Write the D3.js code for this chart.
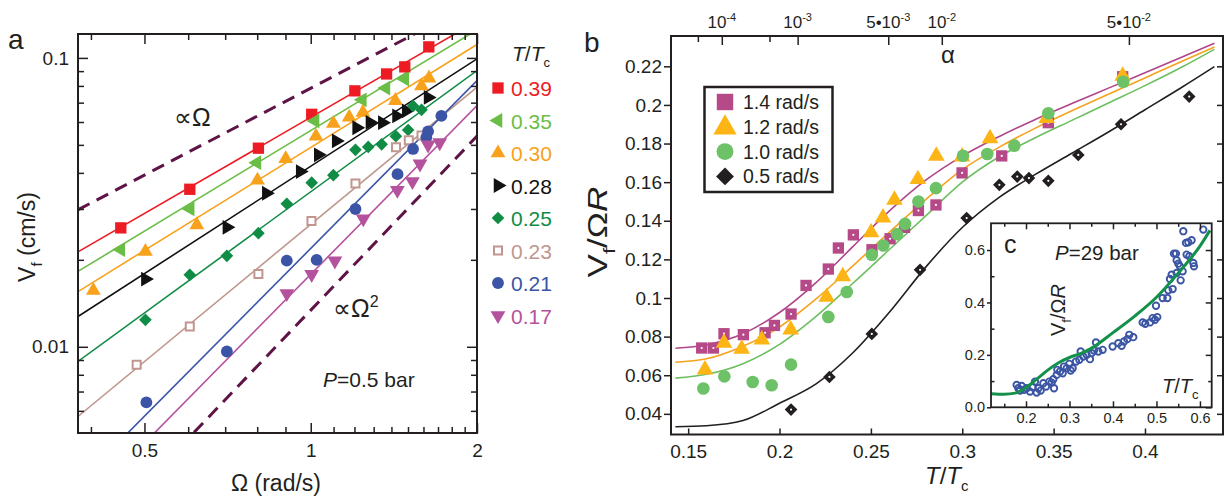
<!DOCTYPE html>
<html>
<head>
<meta charset="utf-8">
<script src="https://cdn.jsdelivr.net/npm/d3@7"></script>
<style>
  html, body { margin: 0; padding: 0; background: #fff; }
  svg text { font-family: "Liberation Sans", Arial, Helvetica, sans-serif; fill: #231f20; }
</style>
</head>
<body>
<svg id="fig" width="1226" height="497"></svg>
<script>
// ---------------- panel a data: V_f (cm/s) vs Omega (rad/s) ----------------
const omegaDomain = [0.379, 2];
const vfDomain = [0.00503, 0.121];
const omegaTicks = [0.4, 0.5, 0.6, 0.7, 0.8, 0.9, 1, 1.1, 1.2, 1.3, 1.4, 1.5, 1.6, 1.7, 1.8, 1.9, 2];
const omegaLabels = [0.5, 1, 2];
const vfTicks = [0.006, 0.007, 0.008, 0.009, 0.01, 0.02, 0.03, 0.04, 0.05, 0.06, 0.07, 0.08, 0.09, 0.1];
const vfLabels = [0.01, 0.1];

const tempLabelsA = ['0.39', '0.35', '0.30', '0.28', '0.25', '0.23', '0.21', '0.17'];

const a039 = [[0.453,0.0258],[0.604,0.0351],[0.804,0.0487],[1.004,0.0638],[1.202,0.0769],[1.372,0.0880],[1.480,0.0931],[1.636,0.1092]];
const a035 = [[0.453,0.0217],[0.605,0.0300],[0.799,0.0434],[1.018,0.0605],[1.240,0.0716],[1.368,0.0786],[1.480,0.0845]];
const a030 = [[0.404,0.01566],[0.502,0.02137],[0.622,0.02643],[0.801,0.03772],[0.901,0.04478],[1.022,0.05352],[1.099,0.05925],[1.174,0.06235],[1.243,0.06477],[1.423,0.07115],[1.587,0.0799],[1.637,0.0851]];
const a028 = [[0.502,0.01715],[0.705,0.02592],[0.831,0.0340],[0.957,0.0404],[1.032,0.0462],[1.112,0.0516],[1.211,0.0573],[1.280,0.0598],[1.348,0.0597],[1.430,0.0630],[1.489,0.0656],[1.631,0.0730]];
const a025 = [[0.502,0.0124],[0.604,0.01775],[0.705,0.02065],[0.804,0.02473],[0.905,0.03126],[1.004,0.0370],[1.099,0.03927],[1.205,0.04805],[1.271,0.0492],[1.344,0.0502],[1.426,0.0536],[1.501,0.0563],[1.532,0.0682],[1.587,0.0661]];
const a023 = [[0.484,0.00866],[0.604,0.01175],[0.804,0.01786],[1.003,0.02724],[1.205,0.03673],[1.427,0.0491],[1.505,0.0519],[1.587,0.0539]];
const a021 = [[0.504,0.00642],[0.705,0.00963],[0.905,0.01987],[1.025,0.0200],[1.205,0.0300],[1.436,0.0396],[1.532,0.0484],[1.631,0.0557],[1.619,0.0531],[1.724,0.0630]];
const a017 = [[0.905,0.01529],[1.004,0.01781],[1.106,0.01984],[1.245,0.02777],[1.435,0.03484],[1.528,0.03733],[1.577,0.04297],[1.631,0.0500],[1.712,0.0509]];

// power-law fits, read at the two ends of the Omega axis
const fitA039 = [[0.379,0.0213],[2,0.134]];
const fitA035 = [[0.379,0.01824],[2,0.125]];
const fitA030 = [[0.379,0.01553],[2,0.1113]];
const fitA028 = [[0.379,0.01273],[2,0.0992]];
const fitA025 = [[0.379,0.0089],[2,0.0904]];
const fitA023 = [[0.379,0.00574],[2,0.0792]];
const fitA021 = [[0.379,0.00337],[2,0.0834]];
const fitA017 = [[0.379,0.00271],[2,0.0684]];
const guideLinear = [[0.379,0.0298],[2,0.157]];     // ∝ Ω
const guideQuadratic = [[0.379,0.00192],[2,0.0536]]; // ∝ Ω²

// ---------------- panel b data: V_f/ΩR vs T/Tc ----------------
const tDomain = [0.1406, 0.4427];
const ratioDomain = [0.0293, 0.2357];
const tTicks = [0.15, 0.2, 0.25, 0.3, 0.35, 0.4];
const ratioTicks = [0.04, 0.06, 0.08, 0.1, 0.12, 0.14, 0.16, 0.18, 0.2, 0.22];
// alpha (mutual friction) axis: tick positions in T/Tc and their labels
const alphaMajorT = [0.1684, 0.2099, 0.2595, 0.2888, 0.3912];
const alphaMinorT = [0.1553, 0.1945];
const alphaMant = ['10', '10', '5\u202210', '10', '5\u202210'];
const alphaExp = ['-4', '-3', '-3', '-2', '-2'];

const rateLabels = ['1.4 rad/s', '1.2 rad/s', '1.0 rad/s', '0.5 rad/s'];

const b14 = [[0.1574,0.0741],[0.1638,0.0741],[0.1696,0.0815],[0.1802,0.0810],[0.1921,0.0820],[0.1972,0.0858],[0.2063,0.0917],[0.2145,0.1065],[0.2267,0.1150],[0.2322,0.1259],[0.2404,0.1327],[0.2506,0.1250],[0.2605,0.1307],[0.2684,0.1366],[0.2760,0.1453],[0.2856,0.1482],[0.2999,0.1648],[0.3216,0.1736],[0.3471,0.1908],[0.3878,0.2146]];
const b12 = [[0.1592,0.0629],[0.1696,0.0767],[0.1793,0.0736],[0.1903,0.0784],[0.2061,0.0836],[0.2258,0.1005],[0.2346,0.1112],[0.2501,0.1339],[0.2566,0.1416],[0.2629,0.1508],[0.2757,0.1615],[0.2858,0.1736],[0.2999,0.1732],[0.3152,0.1827],[0.3462,0.1931],[0.3878,0.2150]];
const b10 = [[0.1583,0.0531],[0.1698,0.0594],[0.1853,0.0565],[0.1957,0.0548],[0.2063,0.0655],[0.2267,0.0902],[0.2368,0.1031],[0.2505,0.1224],[0.2568,0.1272],[0.2643,0.1331],[0.2687,0.1384],[0.2760,0.1500],[0.2856,0.1569],[0.3004,0.1737],[0.3137,0.1746],[0.3285,0.1789],[0.3471,0.1957],[0.3881,0.2120]];
const b05 = [[0.2063,0.0422],[0.2273,0.0591],[0.2505,0.0814],[0.2769,0.1146],[0.3024,0.1414],[0.3203,0.1586],[0.3301,0.1629],[0.3365,0.1621],[0.3471,0.1607],[0.3635,0.1741],[0.3869,0.1900],[0.4242,0.2043]];

const curveT = [0.143, 0.16, 0.18, 0.20, 0.22, 0.24, 0.26, 0.28, 0.30, 0.32, 0.34, 0.36, 0.38, 0.40, 0.42, 0.438];
const curve14 = [0.0740,0.0758,0.0815,0.0925,0.1080,0.1265,0.1450,0.1610,0.1735,0.1835,0.1925,0.2007,0.2087,0.2167,0.2247,0.2319];
const curve12 = [0.0667,0.0685,0.0750,0.0850,0.0995,0.1165,0.1340,0.1510,0.1665,0.1780,0.1880,0.1970,0.2055,0.2140,0.2225,0.2300];
const curve10 = [0.0585,0.0605,0.0660,0.0760,0.0905,0.1075,0.1250,0.1425,0.1600,0.1730,0.1830,0.1920,0.2010,0.2100,0.2195,0.2288];
const curve05 = [0.0333,0.0338,0.0365,0.0455,0.0555,0.0715,0.0925,0.1160,0.1365,0.1520,0.1640,0.1750,0.1860,0.1975,0.2090,0.2198];

// ---------------- inset c: P = 29 bar ----------------
const insetTDomain = [0.1195, 0.627];
const insetRatioDomain = [0, 0.702];
const insetTTicks = [0.2, 0.3, 0.4, 0.5, 0.6];
const insetRatioTicks = [0, 0.2, 0.4, 0.6];
const c29 = [[0.1785,0.0854],[0.1824,0.0727],[0.1900,0.0816],[0.1862,0.0637],[0.1954,0.0663],[0.2015,0.0727],[0.2092,0.0599],[0.2153,0.0765],[0.2207,0.0981],[0.2245,0.0561],[0.2284,0.0727],[0.2337,0.0637],[0.2398,0.0918],[0.2460,0.0790],[0.2536,0.0981],[0.2590,0.0943],[0.2644,0.0727],[0.2628,0.1071],[0.2705,0.1236],[0.2720,0.1428],[0.2782,0.1364],[0.2843,0.1300],[0.2874,0.1555],[0.2935,0.1491],[0.2996,0.1657],[0.3027,0.1402],[0.3073,0.1491],[0.3149,0.1746],[0.3226,0.1810],[0.3257,0.2129],[0.3318,0.1938],[0.3395,0.2001],[0.3471,0.1836],[0.3510,0.2065],[0.3563,0.2167],[0.3609,0.2473],[0.3663,0.2129],[0.3762,0.2192],[0.3992,0.2320],[0.4123,0.2447],[0.4199,0.2345],[0.4253,0.2511],[0.4330,0.2600],[0.4375,0.2766],[0.4467,0.2677],[0.4682,0.3238],[0.4743,0.3187],[0.4851,0.3238],[0.4912,0.3403],[0.4966,0.3340],[0.5019,0.3442],[0.4989,0.3875],[0.5142,0.4168],[0.5250,0.4168],[0.5272,0.4461],[0.5310,0.4895],[0.5349,0.5061],[0.5372,0.4512],[0.5402,0.5864],[0.5448,0.5864],[0.5464,0.5609],[0.5502,0.5481],[0.5540,0.5379],[0.5556,0.4844],[0.5617,0.6718],[0.5678,0.6272],[0.5732,0.6297],[0.5808,0.6374],[0.5693,0.5825],[0.5755,0.5762],[0.5847,0.5507],[0.5862,0.5379],[0.6077,0.6781],[0.5602,0.5188],[0.5464,0.5124]];
const c29Curve = [[0.1195,0.052],[0.15,0.050],[0.175,0.054],[0.20,0.075],[0.225,0.108],[0.25,0.142],[0.275,0.170],[0.30,0.190],[0.325,0.205],[0.35,0.225],[0.40,0.285],[0.45,0.348],[0.50,0.420],[0.55,0.512],[0.60,0.615],[0.623,0.675]];

// ---------------- drawing ----------------
const INK = '#231f20';
const svg = d3.select('#fig');
const defs = svg.append('defs');

function drawMarker(g, shape, x, y, size, color) {
  let type = d3.symbolSquare, rot = 0, fill = color, stroke = 'none';
  if (shape === 'openSquare') { fill = '#fff'; stroke = color; }
  else if (shape === 'circle') type = d3.symbolCircle;
  else if (shape === 'diamond') rot = 45;
  else if (shape === 'triUp') type = d3.symbolTriangle;
  else if (shape === 'triDown') { type = d3.symbolTriangle; rot = 180; }
  else if (shape === 'triLeft') { type = d3.symbolTriangle; rot = -90; }
  else if (shape === 'triRight') { type = d3.symbolTriangle; rot = 90; }
  return g.append('path')
    .attr('d', d3.symbol().type(type).size(size)())
    .attr('transform', `translate(${x},${y}) rotate(${rot})`)
    .style('fill', fill).style('stroke', stroke)
    .style('stroke-width', stroke === 'none' ? null : 2);
}

// text made of parts: {t, sub, sup, it}
function richText(parent, parts, fs) {
  const text = parent.append('text').style('font-size', `${fs}px`);
  let shift = 0;
  parts.forEach(p => {
    const target = p.sub ? fs * 0.3 : p.sup ? -fs * 0.42 : 0;
    const ts = text.append('tspan').attr('dy', target - shift).text(p.t);
    shift = target;
    if (p.sub || p.sup) ts.style('font-size', `${Math.round(fs * 0.64)}px`);
    if (p.it) ts.style('font-style', 'italic');
  });
  return text;
}

function styleAxis(g, fs) {
  g.select('.domain').remove();
  g.selectAll('.tick line').style('stroke', INK).style('stroke-width', 1.5);
  g.selectAll('.tick text').style('font-size', `${fs}px`).style('fill', INK)
    .style('font-family', '"Liberation Sans", Arial, sans-serif');
  return g;
}

// ======== panel a ========
const A = { l: 78, r: 477, t: 34, b: 433 };
const xA = d3.scaleLog().domain(omegaDomain).range([A.l, A.r]);
const yA = d3.scaleLog().domain(vfDomain).range([A.b, A.t]);

defs.append('clipPath').attr('id', 'clipA').append('rect')
  .attr('x', A.l).attr('y', A.t).attr('width', A.r - A.l).attr('height', A.b - A.t);

const seriesA = [
  { pts: a039, fit: fitA039, shape: 'square',     color: '#ed1c24', size: 128 },
  { pts: a035, fit: fitA035, shape: 'triLeft',    color: '#6abd45', size: 95 },
  { pts: a030, fit: fitA030, shape: 'triUp',      color: '#f8a11b', size: 95 },
  { pts: a028, fit: fitA028, shape: 'triRight',   color: '#111111', size: 95 },
  { pts: a025, fit: fitA025, shape: 'diamond',    color: '#108c45', size: 80 },
  { pts: a023, fit: fitA023, shape: 'openSquare', color: '#c0968f', size: 64 },
  { pts: a021, fit: fitA021, shape: 'circle',     color: '#3b54a5', size: 110 },
  { pts: a017, fit: fitA017, shape: 'triDown',    color: '#b5529e', size: 95 },
];

const gA = svg.append('g');
const plotA = gA.append('g').attr('clip-path', 'url(#clipA)');
const lineA = d3.line().x(d => xA(d[0])).y(d => yA(d[1]));

[guideLinear, guideQuadratic].forEach(gd => {
  plotA.append('path').attr('d', lineA(gd))
    .style('fill', 'none').style('stroke', '#5e1446')
    .style('stroke-width', 3).style('stroke-dasharray', '13,8');
});
seriesA.forEach(s => {
  plotA.append('path').attr('d', lineA(s.fit))
    .style('fill', 'none').style('stroke', s.color).style('stroke-width', 1.6);
});
seriesA.forEach(s => {
  s.pts.forEach(p => drawMarker(plotA, s.shape, xA(p[0]), yA(p[1]), s.size, s.color));
});

gA.append('rect').attr('x', A.l).attr('y', A.t).attr('width', A.r - A.l).attr('height', A.b - A.t)
  .style('fill', 'none').style('stroke', INK).style('stroke-width', 2);

const omegaMinor = omegaTicks.filter(v => !omegaLabels.includes(v));
const vfMinor = vfTicks.filter(v => !vfLabels.includes(v));

styleAxis(gA.append('g').attr('transform', `translate(0,${A.b})`)
  .call(d3.axisBottom(xA).tickValues(omegaLabels).tickSize(-10).tickPadding(11).tickFormat(d => String(d))), 19);
styleAxis(gA.append('g').attr('transform', `translate(0,${A.b})`)
  .call(d3.axisBottom(xA).tickValues(omegaMinor).tickSize(-6).tickFormat('')), 19);
styleAxis(gA.append('g').attr('transform', `translate(0,${A.t})`)
  .call(d3.axisTop(xA).tickValues(omegaLabels).tickSize(-10).tickFormat('')), 19);
styleAxis(gA.append('g').attr('transform', `translate(0,${A.t})`)
  .call(d3.axisTop(xA).tickValues(omegaMinor).tickSize(-6).tickFormat('')), 19);
styleAxis(gA.append('g').attr('transform', `translate(${A.l},0)`)
  .call(d3.axisLeft(yA).tickValues(vfLabels).tickSize(-10).tickPadding(9).tickFormat(d => String(d))), 19);
styleAxis(gA.append('g').attr('transform', `translate(${A.l},0)`)
  .call(d3.axisLeft(yA).tickValues(vfMinor).tickSize(-6).tickFormat('')), 19);
styleAxis(gA.append('g').attr('transform', `translate(${A.r},0)`)
  .call(d3.axisRight(yA).tickValues(vfLabels).tickSize(-10).tickFormat('')), 19);
styleAxis(gA.append('g').attr('transform', `translate(${A.r},0)`)
  .call(d3.axisRight(yA).tickValues(vfMinor).tickSize(-6).tickFormat('')), 19);

richText(gA, [{ t: '\u03A9 (rad/s)' }], 23).attr('x', 276).attr('y', 491).attr('text-anchor', 'middle');
richText(gA, [{ t: 'V' }, { t: 'f', sub: true }, { t: ' (cm/s)' }], 23)
  .attr('text-anchor', 'middle').attr('transform', 'translate(35,237) rotate(-90)');

richText(gA, [{ t: '\u221D\u03A9' }], 25).attr('x', 174).attr('y', 126);
richText(gA, [{ t: '\u221D\u03A9' }, { t: '2', sup: true }], 25).attr('x', 333).attr('y', 317);
richText(gA, [{ t: 'P', it: true }, { t: '=0.5 bar' }], 21).attr('x', 323).attr('y', 387);

gA.append('text').attr('x', 8).attr('y', 49).style('font-size', '28px').text('a');

// legend a
richText(gA, [{ t: 'T', it: true }, { t: '/' }, { t: 'T', it: true }, { t: 'c', sub: true }], 21)
  .attr('x', 512).attr('y', 61);
tempLabelsA.forEach((lab, i) => {
  const s = seriesA[i];
  const y = 88 + i * 32.5;
  drawMarker(gA, s.shape, 498, y, s.size, s.color);
  gA.append('text').attr('x', 511).attr('y', y + 8).style('font-size', '21px')
    .style('fill', s.color).text(lab);
});

// ======== panel b ========
const B = { l: 671, r: 1223, t: 36, b: 434.5 };
const xB = d3.scaleLinear().domain(tDomain).range([B.l, B.r]);
const yB = d3.scaleLinear().domain(ratioDomain).range([B.b, B.t]);
const gB = svg.append('g');

const seriesB = [
  { pts: b14, curve: curve14, shape: 'square',  color: '#b64a88', line: '#b0468a', size: 128, legSize: 270, dot: true },
  { pts: b12, curve: curve12, shape: 'triUp',   color: '#fdb515', line: '#f6a21d', size: 120, legSize: 235 },
  { pts: b10, curve: curve10, shape: 'circle',  color: '#6dc167', line: '#6cbf5f', size: 125, legSize: 225 },
  { pts: b05, curve: curve05, shape: 'diamond', color: '#231f20', line: '#231f20', size: 80,  legSize: 160, dot: true },
];

const lineB = d3.line().x((d, i) => xB(curveT[i])).y(d => yB(d)).curve(d3.curveMonotoneX);
seriesB.forEach(s => {
  gB.append('path').attr('d', lineB(s.curve))
    .style('fill', 'none').style('stroke', s.line).style('stroke-width', 1.6);
});
seriesB.forEach(s => {
  s.pts.forEach(p => {
    drawMarker(gB, s.shape, xB(p[0]), yB(p[1]), s.size, s.color);
    if (s.dot) gB.append('circle').attr('cx', xB(p[0])).attr('cy', yB(p[1])).attr('r', 1.1).style('fill', '#fff');
  });
});

gB.append('rect').attr('x', B.l).attr('y', B.t).attr('width', B.r - B.l).attr('height', B.b - B.t)
  .style('fill', 'none').style('stroke', INK).style('stroke-width', 2);

styleAxis(gB.append('g').attr('transform', `translate(0,${B.b})`)
  .call(d3.axisBottom(xB).tickValues(tTicks).tickSize(-6).tickPadding(10).tickFormat(d => String(d))), 19);
styleAxis(gB.append('g').attr('transform', `translate(${B.l},0)`)
  .call(d3.axisLeft(yB).tickValues(ratioTicks).tickSize(7).tickPadding(2).tickFormat(d => String(d))), 19);
styleAxis(gB.append('g').attr('transform', `translate(${B.r},0)`)
  .call(d3.axisRight(yB).tickValues(ratioTicks).tickSize(-6).tickFormat('')), 19);

// alpha axis on top
styleAxis(gB.append('g').attr('transform', `translate(0,${B.t})`)
  .call(d3.axisTop(xB).tickValues(alphaMajorT).tickSize(-9).tickPadding(8).tickFormat('')), 17);
styleAxis(gB.append('g').attr('transform', `translate(0,${B.t})`)
  .call(d3.axisTop(xB).tickValues(alphaMinorT).tickSize(-6).tickFormat('')), 17);
alphaMajorT.forEach((t, i) => {
  richText(gB, [{ t: alphaMant[i] }, { t: alphaExp[i], sup: true }], 17)
    .attr('x', xB(t)).attr('y', 28).attr('text-anchor', 'middle');
});
gB.append('text').attr('x', 948).attr('y', 63).attr('text-anchor', 'middle').style('font-size', '24px').text('\u03B1');

richText(gB, [{ t: 'T', it: true }, { t: '/' }, { t: 'T', it: true }, { t: 'c', sub: true }], 24)
  .attr('x', 925).attr('y', 484);
richText(gB, [{ t: 'V' }, { t: 'f', sub: true }, { t: '/\u03A9' }, { t: 'R', it: true }], 27)
  .attr('text-anchor', 'middle').attr('transform', 'translate(607,232) rotate(-90) scale(1.3,1)');
gB.append('text').attr('x', 584).attr('y', 52).style('font-size', '28px').text('b');

// legend b
const LG = gB.append('g');
LG.append('rect').attr('x', 704.5).attr('y', 87).attr('width', 128).attr('height', 105)
  .style('fill', '#fff').style('stroke', INK).style('stroke-width', 2.5);
rateLabels.forEach((lab, i) => {
  const s = seriesB[i];
  const y = 102 + i * 24.8;
  drawMarker(LG, s.shape, 725, y + (s.shape === 'triUp' ? 1 : 0), s.legSize, s.color);
  LG.append('text').attr('x', 743).attr('y', y + 7).style('font-size', '19.5px').text(lab);
});

// ======== inset c ========
const C = { l: 991, r: 1211.7, t: 223.3, b: 407.3 };
const xC = d3.scaleLinear().domain(insetTDomain).range([C.l, C.r]);
const yC = d3.scaleLinear().domain(insetRatioDomain).range([C.b, C.t]);
const gC = svg.append('g');
gC.append('rect').attr('x', C.l).attr('y', C.t).attr('width', C.r - C.l).attr('height', C.b - C.t)
  .style('fill', '#fff');

const insetTMinor = d3.range(0.15, 0.63, 0.05).filter(v => !insetTTicks.some(t => Math.abs(t - v) < 1e-6));
const insetRatioMinor = [0.1, 0.3, 0.5];

c29.forEach(p => {
  gC.append('circle').attr('cx', xC(p[0])).attr('cy', yC(p[1])).attr('r', 3.2)
    .style('fill', 'none').style('stroke', '#3b55a4').style('stroke-width', 1.9);
});
gC.append('path').attr('d', d3.line().x(d => xC(d[0])).y(d => yC(d[1])).curve(d3.curveMonotoneX)(c29Curve))
  .style('fill', 'none').style('stroke', '#13914a').style('stroke-width', 3);

gC.append('rect').attr('x', C.l).attr('y', C.t).attr('width', C.r - C.l).attr('height', C.b - C.t)
  .style('fill', 'none').style('stroke', INK).style('stroke-width', 1.8);

styleAxis(gC.append('g').attr('transform', `translate(0,${C.b})`)
  .call(d3.axisBottom(xC).tickValues(insetTTicks).tickSize(-6).tickPadding(5).tickFormat(d3.format('.1f'))), 14.5);
styleAxis(gC.append('g').attr('transform', `translate(0,${C.b})`)
  .call(d3.axisBottom(xC).tickValues(insetTMinor).tickSize(-3.5).tickFormat('')), 14.5);
styleAxis(gC.append('g').attr('transform', `translate(0,${C.t})`)
  .call(d3.axisTop(xC).tickValues(insetTTicks).tickSize(-6).tickFormat('')), 14.5);
styleAxis(gC.append('g').attr('transform', `translate(0,${C.t})`)
  .call(d3.axisTop(xC).tickValues(insetTMinor).tickSize(-3.5).tickFormat('')), 14.5);
styleAxis(gC.append('g').attr('transform', `translate(${C.l},0)`)
  .call(d3.axisLeft(yC).tickValues(insetRatioTicks).tickSize(4).tickPadding(2).tickFormat(d3.format('.1f'))), 14.5);
styleAxis(gC.append('g').attr('transform', `translate(${C.l},0)`)
  .call(d3.axisLeft(yC).tickValues(insetRatioMinor).tickSize(-3.5).tickFormat('')), 14.5);
styleAxis(gC.append('g').attr('transform', `translate(${C.r},0)`)
  .call(d3.axisRight(yC).tickValues(insetRatioTicks).tickSize(-6).tickFormat('')), 14.5);
styleAxis(gC.append('g').attr('transform', `translate(${C.r},0)`)
  .call(d3.axisRight(yC).tickValues(insetRatioMinor).tickSize(-3.5).tickFormat('')), 14.5);

gC.append('text').attr('x', 1004).attr('y', 253).style('font-size', '25px').text('c');
richText(gC, [{ t: 'P', it: true }, { t: '=29 bar' }], 20.5).attr('x', 1055).attr('y', 260);
richText(gC, [{ t: 'V' }, { t: 'f', sub: true }, { t: '/\u03A9' }, { t: 'R', it: true }], 20)
  .attr('text-anchor', 'middle').attr('transform', 'translate(1065,310) rotate(-90)');
richText(gC, [{ t: 'T', it: true }, { t: '/' }, { t: 'T', it: true }, { t: 'c', sub: true }], 20)
  .attr('x', 1162).attr('y', 393);
</script>
</body>
</html>
